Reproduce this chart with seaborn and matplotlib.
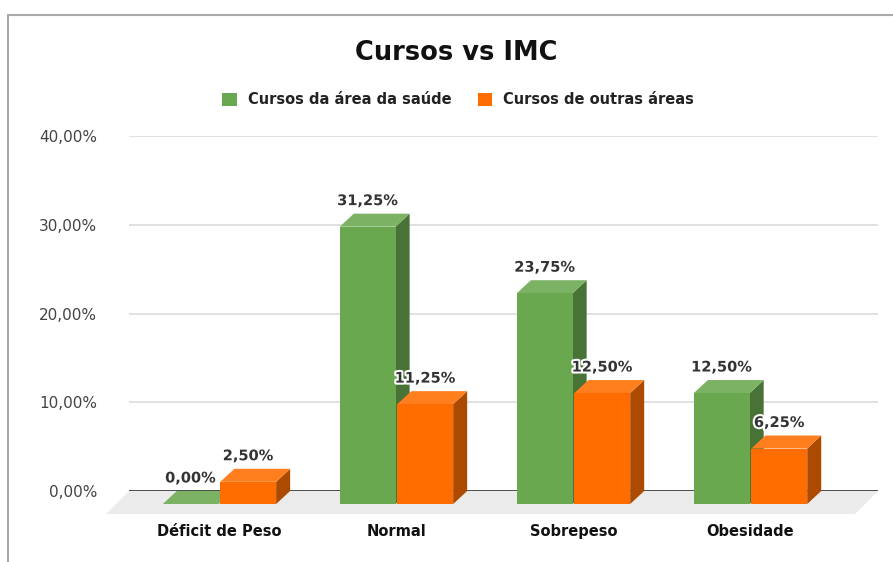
import matplotlib
matplotlib.use("Agg")
import matplotlib.pyplot as plt
import matplotlib.patheffects as pe
from matplotlib.colors import to_rgb
from matplotlib.lines import Line2D
from matplotlib.patches import Patch, Polygon
import pandas as pd
import seaborn as sns

categories = ["Déficit de Peso", "Normal", "Sobrepeso", "Obesidade"]
series = ["Cursos da área da saúde", "Cursos de outras áreas"]
saude = [0.00, 31.25, 23.75, 12.50]
outras = [2.50, 11.25, 12.50, 6.25]
y_ticks = [0, 10, 20, 30, 40]
colors = ["#6aa84f", "#ff6d01"]

sns.set_theme(style="white")
plt.rcParams["font.family"] = ["DejaVu Sans"]

df = pd.DataFrame({
    "categoria": categories * 2,
    "serie": [series[0]] * len(categories) + [series[1]] * len(categories),
    "valor": saude + outras,
})

W, H = 893, 562
fig = plt.figure(figsize=(W / 100, H / 100), dpi=100)
fig.patch.set_facecolor("white")

# axes box = back plane of the 3d chart (gridlines 0..40 %)
left_px, right_px, top_px, zero_px = 129, 878, 136, 491
ax = fig.add_axes([left_px / W, 1 - zero_px / H, (right_px - left_px) / W, (zero_px - top_px) / H])
xlim = (-0.511, 3.72)

sns.barplot(data=df, x="categoria", y="valor", hue="serie", palette=colors, saturation=1,
            width=0.65, gap=0.03, linewidth=0, legend=False, ax=ax, zorder=3)
ax.set_xlim(*xlim)
ax.set_ylim(0, 40)

ppx = (right_px - left_px) / (xlim[1] - xlim[0])
ppy = (zero_px - top_px) / 40
ddx, ddy = 14 / ppx, 13 / ppy          # bar depth
fdx, fdy = 23 / ppx, 23 / ppy          # floor depth


def shade(c, f):
    r, g, b = to_rgb(c)
    if f < 1:
        return (r * f, g * f, b * f)
    return (r + (1 - r) * (f - 1), g + (1 - g) * (f - 1), b + (1 - b) * (f - 1))


bars = sorted([p for p in ax.patches], key=lambda p: p.get_x())
for i, p in enumerate(bars):
    x0, w, h = p.get_x(), p.get_width(), p.get_height()
    base = p.get_facecolor()[:3]
    z = 3 + i * 0.1
    p.set_y(-ddy)
    p.set_clip_on(False)
    p.set_zorder(z + 0.02)
    top = Polygon([(x0, h - ddy), (x0 + w, h - ddy), (x0 + w + ddx, h), (x0 + ddx, h)],
                  closed=True, facecolor=shade(base, 1.12), linewidth=0, zorder=z + 0.01, clip_on=False)
    side = Polygon([(x0 + w, -ddy), (x0 + w + ddx, 0), (x0 + w + ddx, h), (x0 + w, h - ddy)],
                   closed=True, facecolor=shade(base, 0.68), linewidth=0, zorder=z, clip_on=False)
    ax.add_patch(side)
    ax.add_patch(top)
    label = f"{h:.2f}%".replace(".", ",")
    ax.annotate(label, (x0 + w / 2, h), xytext=(0, 4), textcoords="offset points",
                ha="center", va="bottom", fontsize=10.5, fontweight="bold", color="#333333",
                zorder=10, annotation_clip=False,
                path_effects=[pe.withStroke(linewidth=3, foreground="white")])

# floor and zero line
floor = Polygon([(xlim[0], 0), (xlim[1], 0), (xlim[1] - fdx, -fdy), (xlim[0] - fdx, -fdy)],
                closed=True, facecolor="#ebebeb", linewidth=0, zorder=1, clip_on=False)
ax.add_patch(floor)
ax.axhline(0, color="#333333", linewidth=1.2, zorder=1.5)

ax.set_yticks(y_ticks)
ax.set_yticklabels([f"{v:.2f}%".replace(".", ",") for v in y_ticks])
ax.yaxis.grid(True, color="#dcdcdc", linewidth=1.2, zorder=0)
ax.xaxis.grid(False)
ax.tick_params(axis="y", length=0, pad=23, labelsize=11, labelcolor="#444444")
ax.tick_params(axis="x", length=0, pad=24, labelsize=10.5, labelcolor="#111111")
for t in ax.get_xticklabels():
    t.set_fontweight("bold")
ax.set_xlabel("")
ax.set_ylabel("")
for s in ax.spines.values():
    s.set_visible(False)
ax.set_facecolor("none")

fig.text(456 / W, 1 - 53 / H, "Cursos vs IMC", ha="center", va="center",
         fontsize=18.5, fontweight="bold", color="#111111")

handles = [Patch(facecolor=c, edgecolor="none") for c in colors]
leg = fig.legend(handles, series, loc="center", bbox_to_anchor=(458 / W, 1 - 100 / H), ncol=2,
                 frameon=False, handlelength=1.0, handleheight=1.0,
                 handletextpad=0.75, columnspacing=1.8,
                 prop={"size": 10.5, "weight": "bold"})
for t in leg.get_texts():
    t.set_color("#222222")

# sheet frame
fig.add_artist(Line2D([8 / W, 8 / W], [0, 1 - 15 / H], color="#aaaaaa", linewidth=1.5))
fig.add_artist(Line2D([8 / W, 1], [1 - 15 / H, 1 - 15 / H], color="#aaaaaa", linewidth=1.5))

fig.savefig("out.png", dpi=100)
